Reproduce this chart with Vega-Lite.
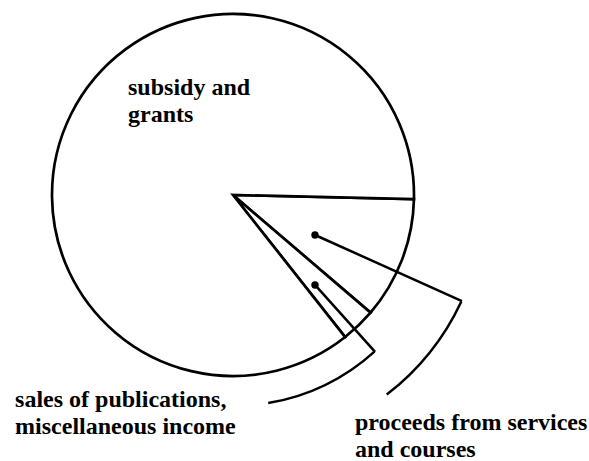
{
  "$schema": "https://vega.github.io/schema/vega-lite/v6.json",
  "width": 589,
  "height": 461,
  "padding": 0,
  "autosize": {"type": "none"},
  "background": "white",
  "config": {"view": {"stroke": null}},
  "datasets": {
    "slices": [
      {"source": "proceeds from services and courses", "share": 10.9, "order": 1},
      {"source": "sales of publications, miscellaneous income", "share": 3.1, "order": 2},
      {"source": "subsidy and grants", "share": 86.0, "order": 3}
    ],
    "leaderArcs": [
      {"id": "services", "t1": 115.0, "t2": 142.4, "r": 1.392},
      {"id": "sales", "t1": 137.9, "t2": 170.4, "r": 1.166}
    ],
    "leaderLines": [
      {"id": "services", "seq": 0, "x": 0.453, "y": -0.221},
      {"id": "services", "seq": 1, "x": 1.265, "y": -0.586},
      {"id": "sales", "seq": 0, "x": 0.453, "y": -0.497},
      {"id": "sales", "seq": 1, "x": 0.785, "y": -0.867}
    ],
    "labels": [
      {"label": "subsidy and\ngrants", "x": -0.580, "y": 0.552},
      {"label": "sales of publications,\nmiscellaneous income", "x": -1.204, "y": -1.171},
      {"label": "proceeds from services\nand courses", "x": 0.674, "y": -1.298}
    ]
  },
  "layer": [
    {
      "data": {"name": "slices"},
      "mark": {"type": "arc", "radius": 181, "fill": "white", "stroke": "black", "strokeWidth": 2.7},
      "encoding": {
        "x": {"datum": 0, "type": "quantitative", "scale": {"domain": [-1.2873, 1.9669], "nice": false, "zero": false}, "axis": null},
        "y": {"datum": 0, "type": "quantitative", "scale": {"domain": [-1.4696, 1.0773], "nice": false, "zero": false}, "axis": null},
        "theta": {"field": "share", "type": "quantitative", "stack": true, "scale": {"range": [1.5935, 7.8767]}},
        "order": {"field": "order"}
      }
    },
    {
      "data": {"name": "leaderArcs"},
      "mark": {"type": "arc", "fill": null, "stroke": "black", "strokeWidth": 2.5},
      "encoding": {
        "x": {"datum": 0, "type": "quantitative", "scale": {"domain": [-1.2873, 1.9669], "nice": false, "zero": false}, "axis": null},
        "y": {"datum": 0, "type": "quantitative", "scale": {"domain": [-1.4696, 1.0773], "nice": false, "zero": false}, "axis": null},
        "theta": {"field": "t1", "type": "quantitative", "stack": null, "scale": {"domain": [0, 360], "range": [0, 6.283185]}},
        "theta2": {"field": "t2"},
        "radius": {"field": "r", "type": "quantitative", "scale": {"type": "linear", "domain": [0, 1], "range": [0, 181], "zero": true}},
        "radius2": {"field": "r"}
      }
    },
    {
      "data": {"name": "leaderLines"},
      "mark": {"type": "line", "stroke": "black", "strokeWidth": 2.5},
      "encoding": {
        "x": {"field": "x", "type": "quantitative", "scale": {"domain": [-1.2873, 1.9669], "nice": false, "zero": false}, "axis": null},
        "y": {"field": "y", "type": "quantitative", "scale": {"domain": [-1.4696, 1.0773], "nice": false, "zero": false}, "axis": null},
        "detail": {"field": "id"},
        "order": {"field": "seq"}
      }
    },
    {
      "data": {"name": "leaderLines"},
      "transform": [{"filter": "datum.seq == 0"}],
      "mark": {"type": "point", "filled": true, "fill": "black", "stroke": null, "size": 55, "opacity": 1},
      "encoding": {
        "x": {"field": "x", "type": "quantitative", "scale": {"domain": [-1.2873, 1.9669], "nice": false, "zero": false}, "axis": null},
        "y": {"field": "y", "type": "quantitative", "scale": {"domain": [-1.4696, 1.0773], "nice": false, "zero": false}, "axis": null}
      }
    },
    {
      "data": {"name": "labels"},
      "mark": {"type": "text", "font": "Liberation Serif", "fontSize": 24, "fontWeight": "bold", "align": "left", "baseline": "alphabetic", "lineBreak": "\n", "lineHeight": 27, "fill": "black"},
      "encoding": {
        "x": {"field": "x", "type": "quantitative", "scale": {"domain": [-1.2873, 1.9669], "nice": false, "zero": false}, "axis": null},
        "y": {"field": "y", "type": "quantitative", "scale": {"domain": [-1.4696, 1.0773], "nice": false, "zero": false}, "axis": null},
        "text": {"field": "label"}
      }
    }
  ],
  "resolve": {"scale": {"theta": "independent"}}
}
